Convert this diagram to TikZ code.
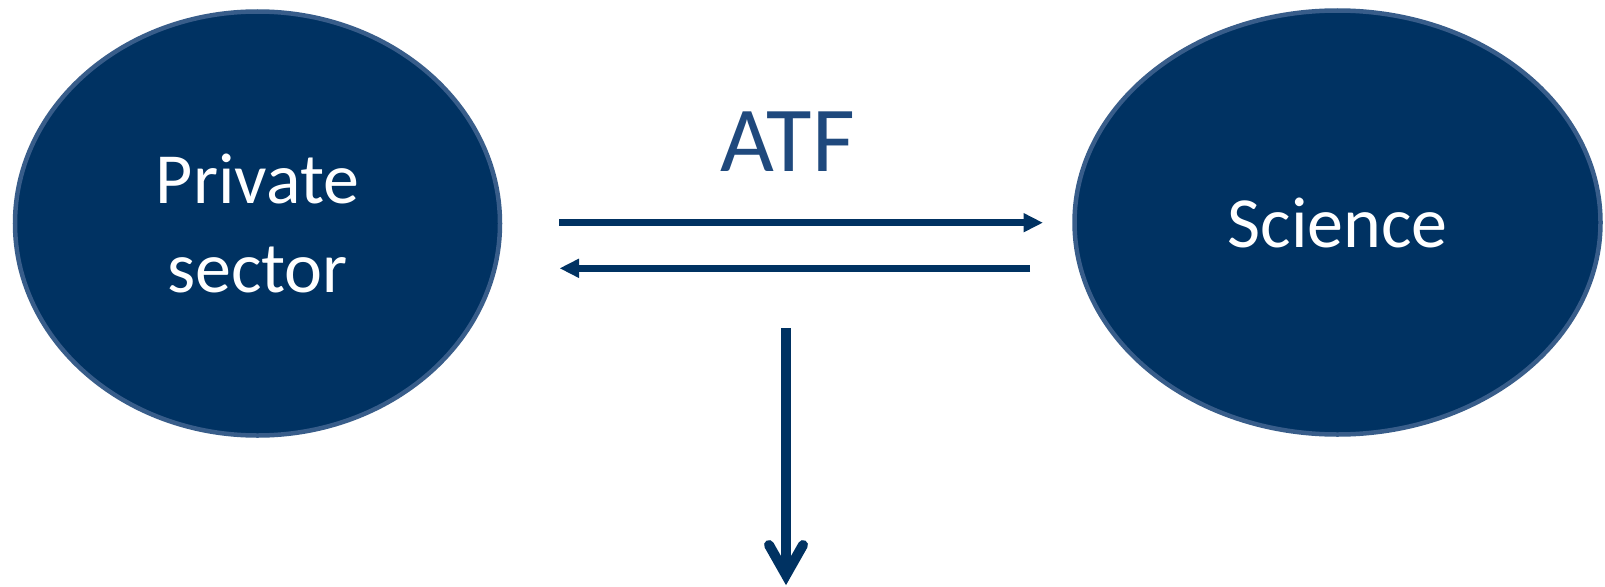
\documentclass[tikz,border=0pt]{standalone}
\usepackage{fontspec}
\setmainfont{Carlito}
\usetikzlibrary{shapes.geometric,arrows.meta}
\definecolor{navy}{HTML}{003262}
\definecolor{rim}{HTML}{385D8A}
\definecolor{atfblue}{HTML}{1F497D}
\begin{document}
\begin{tikzpicture}[x=1pt,y=-1pt,
  blob/.style={ellipse, fill=navy, draw=rim, line width=4.5pt, inner sep=0pt,
    text=white, align=center, font=\fontsize{72}{89}\selectfont},
  flow/.style={draw=navy, line width=6.5pt,
    -{Triangle[length=19pt,width=19.5pt,line width=0pt]}},
  stem/.style={draw=navy, line width=10pt},
  barb/.style={draw=navy, line width=10pt, line cap=round, line join=miter},
]
\useasboundingbox (0,0) rectangle (1605,586);
\node[blob, minimum width=485pt, minimum height=424pt] (ps) at (257.5,223.5) {Private\\sector};
\node[blob, minimum width=526pt, minimum height=424pt] (sc) at (1337.5,222.5) {Science};
\node[text=atfblue, font=\fontsize{93}{93}\selectfont, anchor=base, inner sep=0pt] (atf) at (787.5,171.7) {ATF};
\coordinate (t1) at (559,222.7);
\coordinate (t2) at (1042.5,222.7);
\coordinate (b1) at (1030,268.3);
\coordinate (b2) at (560,268.3);
\draw[flow] (t1) -- (t2);
\draw[flow] (b1) -- (b2);
\coordinate (v1) at (786,328);
\coordinate (v2) at (786,575);
\draw[stem] (v1) -- (v2);
\draw[barb] ([shift={(-17,-30)}]v2) -- (v2) -- ([shift={(17,-30)}]v2);
\end{tikzpicture}
\end{document}
